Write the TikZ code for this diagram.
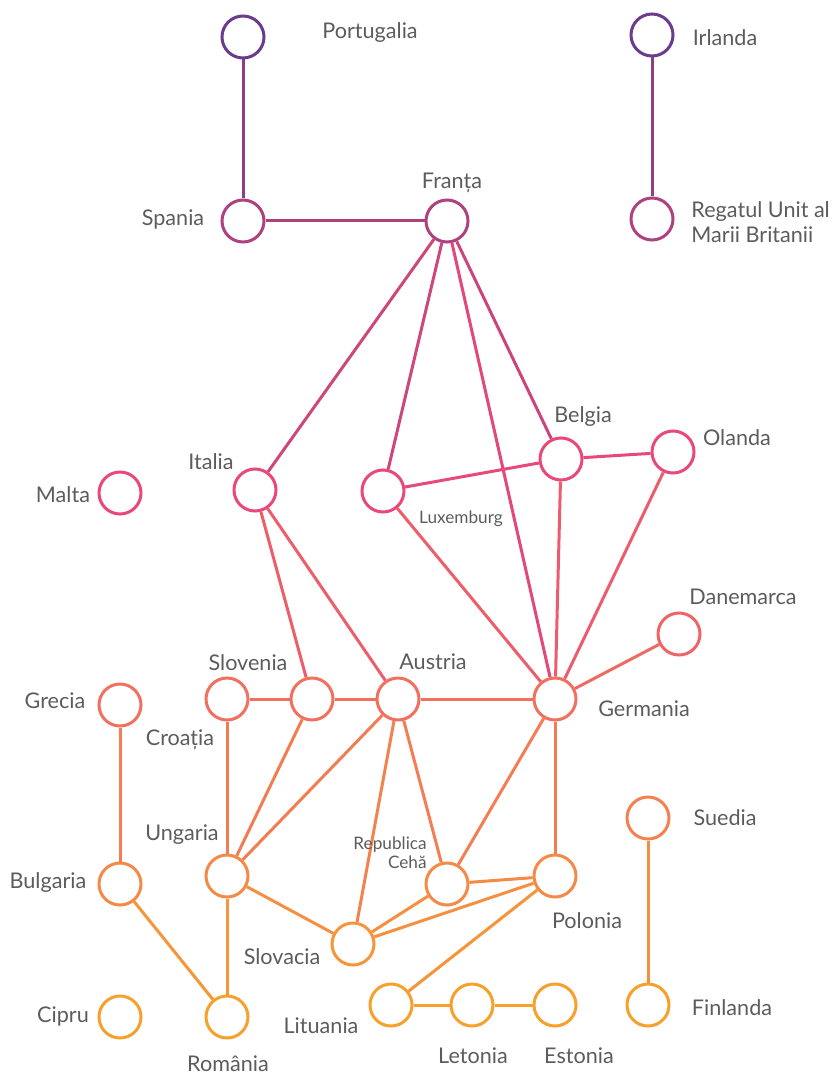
\documentclass[tikz,border=0pt]{standalone}
\usepackage{fontspec}
\setmainfont{Lato}
\usepackage{xcolor}
\usetikzlibrary{positioning}

\definecolor{cA}{HTML}{6B3B8E}
\definecolor{cB}{HTML}{AE427F}
\definecolor{cC}{HTML}{E8497A}
\definecolor{cD}{HTML}{F2705F}
\definecolor{cE}{HTML}{F58A47}
\definecolor{cF}{HTML}{F7A02B}
\definecolor{gri}{HTML}{5C5C5C}

\begin{document}
\begin{tikzpicture}[x=0.5pt, y=-0.5pt,
		tara/.style={circle, draw=#1, line width=1.5pt, minimum size=21pt, inner sep=0pt, fill=white},
		granita/.style={draw=#1, line width=1.5pt},
		eticheta/.style={text=gri, inner sep=0pt, font=\fontsize{10.8}{12.4}\selectfont},
		mic/.style={text=gri, inner sep=0pt, font=\fontsize{8.6}{9.6}\selectfont}]
			\useasboundingbox (0,0) rectangle (832,1075);
			% tari
			\node[tara=cA] (portugalia) at (243, 37) {};
			\node[tara=cA] (irlanda) at (652, 35) {};
			\node[tara=cB] (spania) at (243, 221) {};
			\node[tara=cB] (franta) at (447, 221) {};
			\node[tara=cB] (regatul) at (652, 219) {};
			\node[tara=cC] (italia) at (255, 490) {};
			\node[tara=cC] (malta) at (120, 493) {};
			\node[tara=cC] (luxemburg) at (383, 491) {};
			\node[tara=cC] (belgia) at (561, 459) {};
			\node[tara=cC] (olanda) at (673, 452) {};
			\node[tara=cC!29!cD] (danemarca) at (679, 634) {};
			\node[tara=cD] (grecia) at (120, 705) {};
			\node[tara=cD] (croatia) at (227, 699) {};
			\node[tara=cD] (slovenia) at (312, 699) {};
			\node[tara=cD] (austria) at (398, 699) {};
			\node[tara=cD] (germania) at (555, 699) {};
			\node[tara=cD!35!cE] (suedia) at (648, 818) {};
			\node[tara=cE] (bulgaria) at (120, 884) {};
			\node[tara=cE] (ungaria) at (227, 876) {};
			\node[tara=cE] (ceha) at (447, 884) {};
			\node[tara=cE] (polonia) at (555, 876) {};
			\node[tara=cE!50!cF] (slovacia) at (353, 944) {};
			\node[tara=cF] (cipru) at (120, 1017) {};
			\node[tara=cF] (romania) at (227, 1017) {};
			\node[tara=cF] (lituania) at (391, 1005) {};
			\node[tara=cF] (letonia) at (472, 1005) {};
			\node[tara=cF] (estonia) at (555, 1005) {};
			\node[tara=cF] (finlanda) at (648, 1005) {};
			% granite
			\draw[granita=cA!50!cB] (portugalia) -- (spania);
			\draw[granita=cB] (spania) -- (franta);
			\draw[granita=cA!50!cB] (irlanda) -- (regatul);
			\draw[granita=cB!46!cC] (franta) -- (italia);
			\draw[granita=cB!46!cC] (franta) -- (luxemburg);
			\draw[granita=cB!8!cC] (franta) -- (germania);
			\draw[granita=cB!52!cC] (franta) -- (belgia);
			\draw[granita=cC] (luxemburg) -- (belgia);
			\draw[granita=cC!46!cD] (luxemburg) -- (germania);
			\draw[granita=cC] (belgia) -- (olanda);
			\draw[granita=cC!53!cD] (belgia) -- (germania);
			\draw[granita=cC!54!cD] (olanda) -- (germania);
			\draw[granita=cC!15!cD] (danemarca) -- (germania);
			\draw[granita=cC!46!cD] (italia) -- (slovenia);
			\draw[granita=cC!46!cD] (italia) -- (austria);
			\draw[granita=cD] (croatia) -- (slovenia);
			\draw[granita=cD] (slovenia) -- (austria);
			\draw[granita=cD] (austria) -- (germania);
			\draw[granita=cD!51!cE] (croatia) -- (ungaria);
			\draw[granita=cD!51!cE] (slovenia) -- (ungaria);
			\draw[granita=cD!51!cE] (austria) -- (ungaria);
			\draw[granita=cD!32!cE] (austria) -- (slovacia);
			\draw[granita=cD!49!cE] (austria) -- (ceha);
			\draw[granita=cD!49!cE] (germania) -- (ceha);
			\draw[granita=cD!51!cE] (germania) -- (polonia);
			\draw[granita=cD!47!cE] (grecia) -- (bulgaria);
			\draw[granita=cE!46!cF] (bulgaria) -- (romania);
			\draw[granita=cE!49!cF] (ungaria) -- (romania);
			\draw[granita=cE!77!cF] (ungaria) -- (slovacia);
			\draw[granita=cE] (ceha) -- (polonia);
			\draw[granita=cE!74!cF] (ceha) -- (slovacia);
			\draw[granita=cE!77!cF] (slovacia) -- (polonia);
			\draw[granita=cE!54!cF] (polonia) -- (lituania);
			\draw[granita=cF] (lituania) -- (letonia);
			\draw[granita=cF] (letonia) -- (estonia);
			\draw[granita=cE!76!cF] (suedia) -- (finlanda);
			% etichete
			\node[eticheta] (lportugalia) at (370, 33) {Portugalia};
			\node[eticheta] (lirlanda) at (725, 38) {Irlanda};
			\node[eticheta] (lfranta) at (452, 183) {Franța};
			\node[eticheta] (lspania) at (173, 219) {Spania};
			\node[eticheta, anchor=west, align=left] (lregatul) at (691, 222) {Regatul Unit al\\Marii Britanii};
			\node[eticheta] (litalia) at (211, 462) {Italia};
			\node[eticheta] (lmalta) at (63, 495) {Malta};
			\node[mic] (lluxemburg) at (461, 519) {Luxemburg};
			\node[eticheta] (lbelgia) at (583, 417) {Belgia};
			\node[eticheta] (lolanda) at (737, 438) {Olanda};
			\node[eticheta] (ldanemarca) at (743, 597) {Danemarca};
			\node[eticheta] (lslovenia) at (248, 663) {Slovenia};
			\node[eticheta] (laustria) at (433, 662) {Austria};
			\node[eticheta] (lgrecia) at (55, 701) {Grecia};
			\node[eticheta] (lcroatia) at (180, 740) {Croația};
			\node[eticheta] (lgermania) at (644, 709) {Germania};
			\node[eticheta] (lsuedia) at (725, 818) {Suedia};
			\node[eticheta] (lungaria) at (182, 835) {Ungaria};
			\node[mic, anchor=east, align=right] (lceha) at (427, 853) {Republica\\Cehă};
			\node[eticheta] (lbulgaria) at (48, 883) {Bulgaria};
			\node[eticheta] (lpolonia) at (587, 921) {Polonia};
			\node[eticheta] (lslovacia) at (282, 957) {Slovacia};
			\node[eticheta] (lcipru) at (63, 1016) {Cipru};
			\node[eticheta] (lfinlanda) at (732, 1008) {Finlanda};
			\node[eticheta] (llituania) at (321, 1026) {Lituania};
			\node[eticheta] (lletonia) at (473, 1056) {Letonia};
			\node[eticheta] (lestonia) at (579, 1056) {Estonia};
			\node[eticheta] (lromania) at (228, 1064) {România};
\end{tikzpicture}
\end{document}
